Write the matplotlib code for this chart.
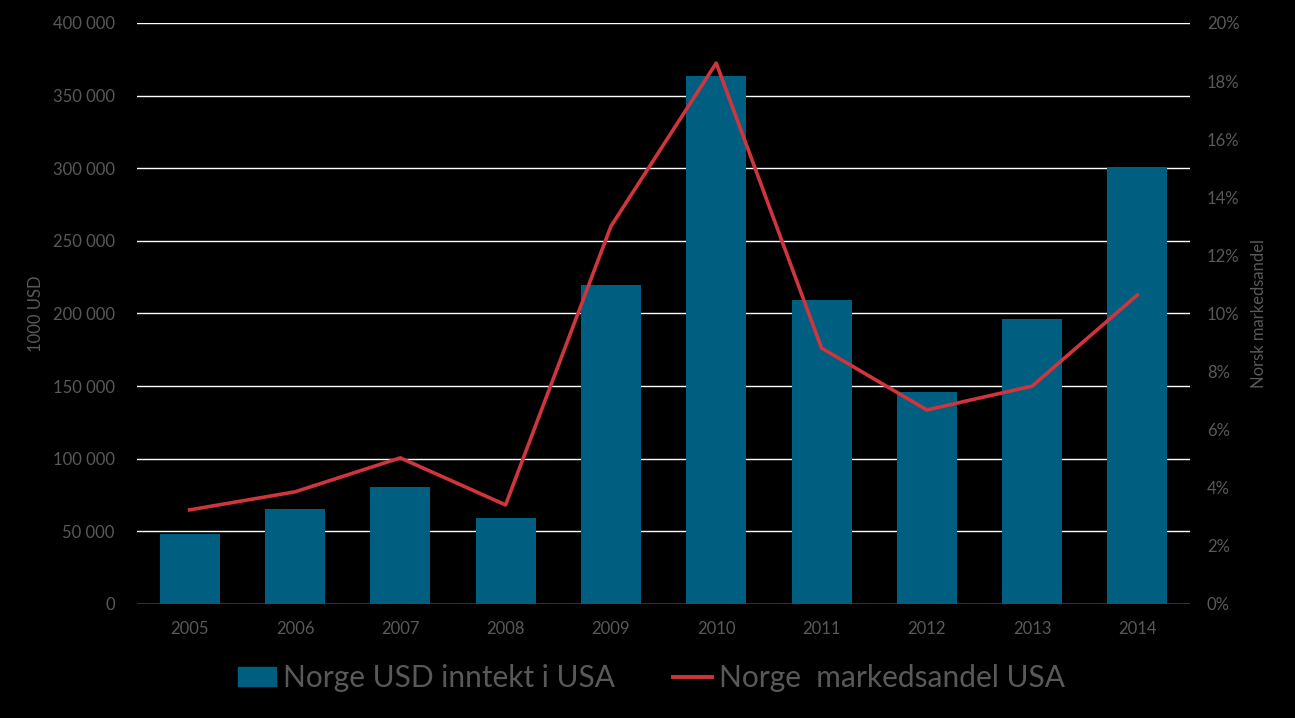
import matplotlib

matplotlib.use("Agg")
import matplotlib.pyplot as plt
from matplotlib.lines import Line2D
from matplotlib.patches import Patch
from matplotlib.ticker import FuncFormatter

years = ["2005", "2006", "2007", "2008", "2009", "2010", "2011", "2012", "2013", "2014"]
inntekt = [48200, 65400, 80500, 59200, 219600, 363500, 209300, 146000, 196200, 300900]
andel = [3.24, 3.86, 5.03, 3.41, 13.0, 18.62, 8.81, 6.68, 7.50, 10.64]

BAR = "#005F80"
RED = "#D0343D"
TXT = "#595959"

plt.rcParams["font.family"] = ["Lato", "DejaVu Sans"]

fig = plt.figure(figsize=(12.95, 7.18), dpi=100, facecolor="black")
ax = fig.add_axes([0.1058, 0.1588, 0.8132, 0.8092])
ax.set_facecolor("black")
x = list(range(len(years)))
ax.bar(x, inntekt, width=0.57, color=BAR, zorder=2)
ax.set_xlim(-0.5, len(years) - 0.5)
ax.set_ylim(0, 400000)
ax.set_yticks(range(0, 400001, 50000))
ax.yaxis.set_major_formatter(FuncFormatter(lambda v, p: f"{int(v):,}".replace(",", " ")))
ax.set_xticks(x, years)
ax.grid(True, axis="y", color="white", linewidth=1.0, zorder=1)
ax.tick_params(length=0, colors=TXT, labelsize=12, pad=16)
ax.tick_params(axis="x", pad=12)
for s in ax.spines.values():
    s.set_visible(False)
ax.set_ylabel("1000 USD", color=TXT, fontsize=12, labelpad=6)

ax2 = ax.twinx()
ax2.plot(x, andel, color=RED, linewidth=2.6, zorder=3)
ax2.set_ylim(0, 20)
ax2.set_yticks(range(0, 21, 2))
ax2.yaxis.set_major_formatter(FuncFormatter(lambda v, p: f"{int(v)}%"))
ax2.tick_params(length=0, colors=TXT, labelsize=12, pad=12)
for s in ax2.spines.values():
    s.set_visible(False)
ax2.set_ylabel("Norsk markedsandel", color=TXT, fontsize=12, labelpad=8)

handles = [
    Patch(color=BAR, label="Norge USD inntekt i USA"),
    Line2D([0], [0], color=RED, linewidth=2.8, label="Norge  markedsandel USA"),
]
leg = fig.legend(handles=handles, loc="center", bbox_to_anchor=(0.503, 0.056), ncol=2,
                 frameon=False, fontsize=21.5, handlelength=1.3, handleheight=0.6,
                 handletextpad=0.23, columnspacing=1.95)
for t in leg.get_texts():
    t.set_color(TXT)

fig.savefig("out.png", dpi=100, facecolor="black")
